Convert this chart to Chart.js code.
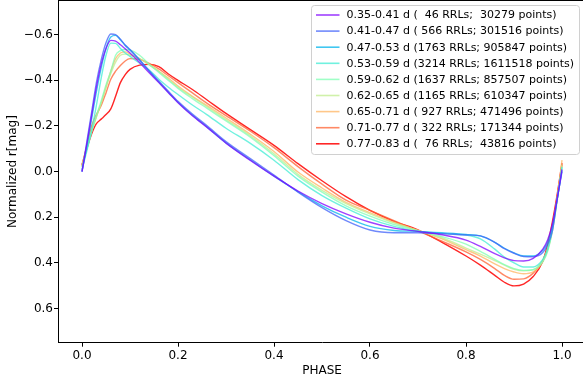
<!DOCTYPE html>
<html>
<head>
<meta charset="utf-8">
<script src="https://cdn.jsdelivr.net/npm/chart.js@4.4.1/dist/chart.umd.min.js"></script>
<style>
  html, body { margin: 0; padding: 0; background: #fff; overflow: hidden; }
  #wrap { width: 583px; height: 383px; overflow: hidden; }
</style>
</head>
<body>
<div id="wrap"><canvas id="c" width="586" height="383"></canvas></div>
<script>
// ---------------- DATA ----------------
const phase = [0,0.01,0.02,0.03,0.04,0.05,0.06,0.07,0.08,0.09,0.10,0.12,0.14,0.16,0.18,0.20,0.23,0.26,0.30,0.35,0.40,0.45,0.50,0.55,0.60,0.65,0.70,0.75,0.80,0.83,0.86,0.88,0.90,0.92,0.94,0.96,0.97,0.98,0.99,1.00];

const p035 = [0.00,-0.12,-0.245,-0.37,-0.47,-0.54,-0.575,-0.572,-0.556,-0.538,-0.52,-0.478,-0.433,-0.39,-0.346,-0.302,-0.245,-0.195,-0.125,-0.05,0.02,0.085,0.14,0.185,0.222,0.248,0.262,0.277,0.30,0.328,0.36,0.378,0.39,0.392,0.38,0.34,0.30,0.23,0.12,-0.01];
const p041 = [0.00,-0.13,-0.26,-0.39,-0.49,-0.565,-0.603,-0.60,-0.58,-0.555,-0.535,-0.49,-0.442,-0.397,-0.352,-0.308,-0.252,-0.202,-0.132,-0.058,0.015,0.09,0.158,0.215,0.256,0.268,0.268,0.272,0.278,0.282,0.31,0.338,0.358,0.372,0.373,0.355,0.32,0.26,0.12,0.00];
const p047 = [0.00,-0.11,-0.23,-0.35,-0.455,-0.54,-0.59,-0.597,-0.578,-0.553,-0.533,-0.488,-0.44,-0.393,-0.348,-0.304,-0.247,-0.196,-0.126,-0.052,0.02,0.088,0.15,0.20,0.24,0.258,0.262,0.268,0.275,0.282,0.31,0.336,0.356,0.37,0.37,0.345,0.31,0.24,0.12,-0.005];
const p053 = [-0.01,-0.09,-0.18,-0.29,-0.41,-0.51,-0.563,-0.562,-0.54,-0.52,-0.505,-0.475,-0.445,-0.405,-0.37,-0.338,-0.292,-0.25,-0.19,-0.125,-0.05,0.035,0.105,0.16,0.207,0.24,0.262,0.272,0.278,0.295,0.34,0.375,0.40,0.418,0.418,0.385,0.34,0.25,0.12,-0.02];
const p059 = [-0.02,-0.10,-0.175,-0.245,-0.31,-0.38,-0.44,-0.51,-0.53,-0.535,-0.533,-0.51,-0.47,-0.435,-0.40,-0.365,-0.32,-0.278,-0.222,-0.152,-0.07,0.02,0.09,0.15,0.195,0.232,0.26,0.285,0.318,0.35,0.385,0.408,0.425,0.433,0.43,0.395,0.35,0.26,0.13,-0.02];
const p062 = [-0.02,-0.10,-0.175,-0.24,-0.30,-0.37,-0.43,-0.48,-0.51,-0.515,-0.51,-0.495,-0.468,-0.44,-0.405,-0.37,-0.327,-0.285,-0.228,-0.158,-0.078,0.012,0.082,0.14,0.185,0.225,0.258,0.29,0.335,0.362,0.39,0.41,0.428,0.435,0.43,0.39,0.34,0.25,0.12,-0.03];
const p065 = [-0.03,-0.11,-0.18,-0.24,-0.30,-0.37,-0.44,-0.495,-0.52,-0.525,-0.515,-0.495,-0.47,-0.44,-0.41,-0.375,-0.33,-0.29,-0.235,-0.165,-0.088,0.002,0.072,0.135,0.18,0.222,0.258,0.295,0.342,0.37,0.405,0.425,0.44,0.448,0.44,0.395,0.345,0.26,0.12,-0.05];
const p071 = [-0.025,-0.11,-0.20,-0.25,-0.29,-0.345,-0.405,-0.44,-0.465,-0.485,-0.495,-0.492,-0.474,-0.45,-0.42,-0.39,-0.345,-0.30,-0.245,-0.178,-0.105,-0.022,0.055,0.125,0.17,0.215,0.26,0.305,0.352,0.385,0.425,0.455,0.472,0.47,0.445,0.39,0.33,0.24,0.11,-0.03];
const p077 = [-0.03,-0.10,-0.165,-0.21,-0.23,-0.25,-0.275,-0.33,-0.39,-0.425,-0.448,-0.467,-0.47,-0.46,-0.428,-0.40,-0.36,-0.315,-0.255,-0.185,-0.115,-0.035,0.04,0.11,0.17,0.218,0.255,0.31,0.37,0.41,0.455,0.485,0.501,0.493,0.46,0.393,0.32,0.22,0.10,-0.037];

const seriesLabels = [
  "0.35-0.41 d (  46 RRLs;  30279 points)",
  "0.41-0.47 d ( 566 RRLs; 301516 points)",
  "0.47-0.53 d (1763 RRLs; 905847 points)",
  "0.53-0.59 d (3214 RRLs; 1611518 points)",
  "0.59-0.62 d (1637 RRLs; 857507 points)",
  "0.62-0.65 d (1165 RRLs; 610347 points)",
  "0.65-0.71 d ( 927 RRLs; 471496 points)",
  "0.71-0.77 d ( 322 RRLs; 171344 points)",
  "0.77-0.83 d (  76 RRLs;  43816 points)"
];
const seriesValues = [p035, p041, p047, p053, p059, p062, p065, p071, p077];
const seriesColors = [
  "rgba(128,0,255,0.75)",
  "rgba(64,98,250,0.75)",
  "rgba(0,180,236,0.75)",
  "rgba(64,236,212,0.75)",
  "rgba(128,255,180,0.75)",
  "rgba(192,236,142,0.75)",
  "rgba(255,180,98,0.75)",
  "rgba(255,98,50,0.75)",
  "rgba(255,0,0,0.85)"
];
const xTicks = [0, 0.2, 0.4, 0.6, 0.8, 1.0];
const yTicks = [-0.6, -0.4, -0.2, 0.0, 0.2, 0.4, 0.6];

// ---------------- CHART ----------------
const FONT = "DejaVu Sans";
const fmt = v => (v < -1e-9 ? "\u2212" : "") + Math.abs(v).toFixed(1);

const datasets = seriesValues.map((vals, k) => ({
  label: seriesLabels[k],
  data: phase.map((x, i) => ({ x: x, y: vals[i] })),
  borderColor: seriesColors[k],
  backgroundColor: seriesColors[k],
  borderWidth: 1.4,
  pointRadius: 0,
  fill: false,
  cubicInterpolationMode: 'monotone'
}));

const frameAndLegend = {
  id: 'frameAndLegend',
  afterDatasetsDraw(chart) {
    const ctx = chart.ctx;
    const a = chart.chartArea;
    ctx.save();
    ctx.strokeStyle = '#000';
    ctx.lineWidth = 1;
    ctx.beginPath();
    ctx.moveTo(a.left, 0.5);
    ctx.lineTo(a.right, 0.5);
    ctx.stroke();
    // legend
    const bx = 311.5, by = 5.5, bw = 268, bh = 149;
    ctx.beginPath();
    ctx.roundRect(bx, by, bw, bh, 3);
    ctx.fillStyle = 'rgba(255,255,255,0.8)';
    ctx.fill();
    ctx.strokeStyle = '#d0d0d0';
    ctx.stroke();
    ctx.font = '11px "' + FONT + '"';
    ctx.textBaseline = 'middle';
    ctx.textAlign = 'left';
    chart.data.datasets.forEach((ds, i) => {
      const yy = 15 + i * 16.1;
      ctx.beginPath();
      ctx.strokeStyle = ds.borderColor;
      ctx.lineWidth = 1.6;
      ctx.moveTo(316, yy);
      ctx.lineTo(339.5, yy);
      ctx.stroke();
      ctx.fillStyle = '#000';
      ctx.fillText(ds.label, 346.5, yy + 0.5);
    });
    ctx.restore();
  }
};

new Chart(document.getElementById('c'), {
  type: 'line',
  data: { datasets },
  options: {
    responsive: false,
    animation: false,
    events: [],
    layout: { padding: { top: 0.5, left: 0, right: 0, bottom: 0 } },
    plugins: { legend: { display: false }, tooltip: { enabled: false } },
    scales: {
      x: {
        type: 'linear',
        min: -0.05,
        max: 1.05,
        afterBuildTicks: s => { s.ticks = xTicks.map(v => ({ value: v })); },
        afterFit: s => { s.height = 40.3; s.paddingLeft = 0; s.paddingRight = 0; },
        ticks: {
          callback: v => fmt(v),
          color: '#000',
          font: { family: FONT, size: 12 },
          padding: 2,
          maxRotation: 0,
          autoSkip: false
        },
        grid: { display: true, drawOnChartArea: false, drawTicks: true, tickLength: 4, color: '#000', lineWidth: 1 },
        border: { display: true, color: '#000', width: 1 },
        title: { display: true, text: 'PHASE', color: '#000', font: { family: FONT, size: 12 }, padding: { top: 0, bottom: 4.8 } }
      },
      y: {
        type: 'linear',
        min: -0.75,
        max: 0.75,
        reverse: true,
        afterBuildTicks: s => { s.ticks = yTicks.map(v => ({ value: v })); },
        afterFit: s => { s.width = 58; s.paddingTop = 0; s.paddingBottom = 0; },
        ticks: {
          callback: v => fmt(v),
          color: '#000',
          font: { family: FONT, size: 12 },
          padding: 1,
          autoSkip: false
        },
        grid: { display: true, drawOnChartArea: false, drawTicks: true, tickLength: 4, color: '#000', lineWidth: 1 },
        border: { display: true, color: '#000', width: 1 },
        title: { display: true, text: 'Normalized r[mag]', color: '#000', font: { family: FONT, size: 12 }, padding: { top: 6, bottom: 0 } }
      }
    }
  },
  plugins: [frameAndLegend]
});
</script>
</body>
</html>
